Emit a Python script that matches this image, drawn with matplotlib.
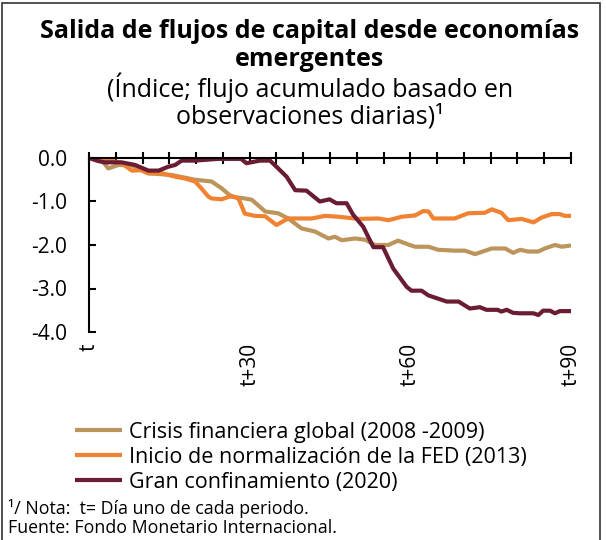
import matplotlib.pyplot as plt
from matplotlib.patches import Rectangle

plt.rcParams['font.family'] = ['Open Sans', 'DejaVu Sans']

# Crisis financiera global (2008-2009)
gfc_days = [0, 1.7, 3.6, 5.5, 8, 11, 15.4, 19.8, 22.9, 24.8, 26.6, 29.1, 30.4, 32.9, 35.3,
            37.2, 39.7, 42.2, 44.7, 45.9, 47.2, 49.7, 51.6, 53.4, 55.9, 57.7, 59.9, 60.9,
            63.4, 65.2, 68.3, 70.2, 72.1, 75.2, 77.7, 79.2, 80.5, 82, 83.9, 85.1, 87, 88.3, 90]
gfc_vals = [0, 0.05, -0.24, -0.16, -0.17, -0.35, -0.39, -0.5, -0.54, -0.70, -0.89, -0.93,
            -0.96, -1.23, -1.27, -1.39, -1.62, -1.69, -1.85, -1.81, -1.89, -1.85, -1.88,
            -2.0, -2.0, -1.90, -2.0, -2.04, -2.04, -2.11, -2.13, -2.13, -2.21, -2.08, -2.08,
            -2.18, -2.11, -2.15, -2.15, -2.08, -2.0, -2.04, -2.01]

# Inicio de normalizacion de la FED (2013)
fed_days = [0, 2.9, 6.1, 8, 9.8, 11, 13.6, 16.1, 17.9, 19.8, 21, 22.3, 22.9, 24.8, 26.6,
            27.9, 29.1, 31, 32.9, 35, 36.6, 37.2, 41.6, 44.1, 46.5, 50.3, 54, 55.9, 58.4,
            60.9, 62.4, 63.4, 64.3, 68.3, 70.8, 73.9, 75.2, 77, 78.3, 80.8, 83, 84.5, 86.4,
            87.9, 88.8, 90]
fed_vals = [0, -0.02, -0.12, -0.29, -0.28, -0.35, -0.35, -0.43, -0.47, -0.54, -0.70, -0.89,
            -0.93, -0.95, -0.87, -0.93, -1.28, -1.33, -1.34, -1.54, -1.43, -1.39, -1.39,
            -1.33, -1.35, -1.40, -1.39, -1.43, -1.35, -1.32, -1.22, -1.23, -1.39, -1.39,
            -1.27, -1.26, -1.18, -1.26, -1.43, -1.40, -1.48, -1.37, -1.29, -1.29, -1.33, -1.33]

# Gran confinamiento (2020)
cov_days = [0, 1.7, 2.9, 6.1, 8.6, 11.1, 13, 14.8, 16.1, 17.3, 19.8, 24.1, 28.4, 29.4, 31.9,
            33.8, 35, 36.9, 38.5, 40.6, 43.1, 44.9, 46.2, 48.1, 49.3, 51.2, 53.1, 54.9, 56.8,
            59.3, 60.2, 62.1, 63.4, 66.8, 69, 71.1, 73, 74.2, 76.3, 77, 78, 79.2, 80.5, 83,
            83.9, 84.8, 86.1, 87, 87.9, 90]
cov_vals = [0, -0.07, -0.1, -0.1, -0.16, -0.29, -0.29, -0.2, -0.16, -0.06, -0.06, -0.02,
            -0.02, -0.12, -0.06, -0.06, -0.2, -0.43, -0.74, -0.75, -1.0, -0.95, -1.04, -1.04,
            -1.3, -1.58, -2.05, -2.05, -2.54, -2.96, -3.05, -3.05, -3.16, -3.30, -3.30, -3.46,
            -3.43, -3.49, -3.49, -3.53, -3.49, -3.56, -3.57, -3.57, -3.61, -3.51, -3.51,
            -3.57, -3.52, -3.52]

labels = ['Crisis financiera global (2008 -2009)',
          'Inicio de normalización de la FED (2013)',
          'Gran confinamiento (2020)']
colors = ['#BC955C', '#F08232', '#691C32']
xtick_pos = [0, 30, 60, 90]
xtick_lab = ['t', 't+30', 't+60', 't+90']
ytick_pos = [0, -1, -2, -3, -4]

W, H = 606, 540
fig = plt.figure(figsize=(W / 100, H / 100), dpi=100)
ax = fig.add_axes([89 / W, 1 - 332 / H, (571 - 89) / W, (332 - 158) / H])

series = [(gfc_days, gfc_vals), (fed_days, fed_vals), (cov_days, cov_vals)]
for (d, v), lab, c in zip(series, labels, colors):
    ax.plot(d, v, color=c, lw=3, label=lab, solid_capstyle='butt')

ax.set_xlim(0, 90)
ax.set_ylim(-4, 0)
ax.spines['right'].set_visible(False)
ax.spines['bottom'].set_visible(False)
ax.spines['top'].set_linewidth(1.5)
ax.spines['left'].set_linewidth(1.5)
ax.xaxis.set_ticks_position('top')
ax.set_xticks(range(0, 91, 5))
ax.tick_params(axis='x', direction='inout', length=9, width=1.5, labeltop=False)
ax.set_yticks(ytick_pos)
ax.set_yticklabels([f'{v:.1f}' for v in ytick_pos])
ax.tick_params(axis='y', direction='in', length=5, width=1.5, labelsize=15, pad=16)

sec = ax.secondary_xaxis('bottom')
sec.set_xticks(xtick_pos)
sec.set_xticklabels(xtick_lab, rotation=90, fontsize=15)
sec.tick_params(length=0, pad=8)
sec.spines['bottom'].set_visible(False)

fig.text(310 / W, 1 - 38 / H, 'Salida de flujos de capital desde economías',
         ha='center', va='baseline', fontsize=18, fontweight='bold')
fig.text(310 / W, 1 - 66 / H, 'emergentes', ha='center', va='baseline',
         fontsize=18, fontweight='bold')
fig.text(310 / W, 1 - 97 / H, '(Índice; flujo acumulado basado en',
         ha='center', va='baseline', fontsize=18)
fig.text(310 / W, 1 - 124 / H, 'observaciones diarias)¹',
         ha='center', va='baseline', fontsize=18)

fig.legend(loc='upper left', bbox_to_anchor=(75 / W, 1 - 422 / H), frameon=False,
           fontsize=15.5, handlelength=2.2, handletextpad=0.3, labelspacing=0.18,
           borderpad=0, borderaxespad=0)

fig.text(8 / W, 1 - 514 / H, '¹/ Nota:  t= Día uno de cada periodo.',
         ha='left', va='baseline', fontsize=12.8)
fig.text(8 / W, 1 - 533 / H, 'Fuente: Fondo Monetario Internacional.',
         ha='left', va='baseline', fontsize=12.8)

fig.patches.append(Rectangle((2 / W, -0.05), 598 / W, 1 - 3 / H + 0.05,
                             transform=fig.transFigure, fill=False,
                             edgecolor='#333333', lw=1.2))

fig.savefig('out.png', dpi=100)
